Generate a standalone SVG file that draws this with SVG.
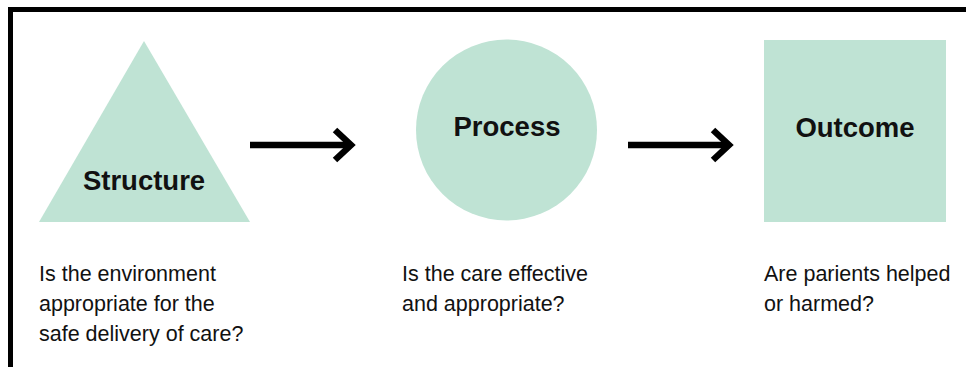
<svg xmlns="http://www.w3.org/2000/svg" width="966" height="367" viewBox="0 0 966 367">
<style>
.shape{fill:#bfe3d4}
.title{font-family:"Liberation Sans",Arial,sans-serif;font-weight:bold;font-size:27.5px;fill:#111;text-anchor:middle}
.desc{font-family:"Liberation Sans",Arial,sans-serif;font-size:21.5px;fill:#111}
.conn{stroke:#000;stroke-width:6.5;fill:none}
</style>
<defs>
<marker id="chev" markerUnits="userSpaceOnUse" markerWidth="30" markerHeight="40" viewBox="0 0 30 40" refX="20" refY="20" orient="auto" overflow="visible">
<polyline points="4,5 20,20 4,35" fill="none" stroke="#000" stroke-width="6.5" stroke-linejoin="miter"/>
</marker>
</defs>
<rect width="966" height="367" fill="#fff"/>
<path d="M10.5,367 V9.5 H966" fill="none" stroke="#000" stroke-width="5"/>
<g id="structure">
<polygon class="shape" points="144,41 39,222 250,222"/>
<text class="title" x="144" y="190">Structure</text>
<text class="desc" x="39"><tspan x="39" y="281">Is the environment</tspan><tspan x="39" y="311">appropriate for the</tspan><tspan x="39" y="341">safe delivery of care?</tspan></text>
</g>
<g id="process">
<circle class="shape" cx="506.5" cy="130" r="90.5"/>
<text class="title" x="507" y="136">Process</text>
<text class="desc" x="402"><tspan x="402" y="281">Is the care effective</tspan><tspan x="402" y="311">and appropriate?</tspan></text>
</g>
<g id="outcome">
<rect class="shape" x="764" y="40" width="182" height="182"/>
<text class="title" x="855" y="137">Outcome</text>
<text class="desc" x="764"><tspan x="764" y="281">Are parients helped</tspan><tspan x="764" y="311">or harmed?</tspan></text>
</g>
<g id="connectors">
<line class="conn" x1="250" y1="145" x2="351" y2="145" marker-end="url(#chev)"/>
<line class="conn" x1="628" y1="145" x2="729" y2="145" marker-end="url(#chev)"/>
</g>
</svg>
